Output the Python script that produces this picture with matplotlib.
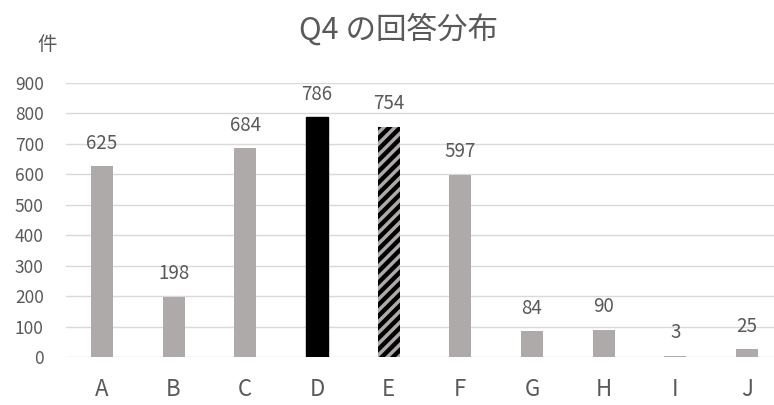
import matplotlib
matplotlib.use("Agg")
from matplotlib import pyplot as plt

plt.rcParams['font.family'] = ['Noto Sans CJK JP', 'DejaVu Sans']
plt.rcParams['hatch.linewidth'] = 2.5

# データ
categories = ['A', 'B', 'C', 'D', 'E', 'F', 'G', 'H', 'I', 'J']
counts = [625, 198, 684, 786, 754, 597, 84, 90, 3, 25]
yticks = [0, 100, 200, 300, 400, 500, 600, 700, 800, 900]

gray = '#AEAAAA'
text_col = '#595959'

fig = plt.figure(figsize=(7.74, 4.05), dpi=100)
ax = fig.add_axes([0.0853, 0.1185, 0.926, 0.6775])

x = range(len(categories))
bars = ax.bar(x, counts, width=0.307, color=gray, zorder=2)
bars[3].set_color('black')
bars[4].set_facecolor('black')
bars[4].set_edgecolor(gray)
bars[4].set_hatch('///')
bars[4].set_linewidth(0)

# データラベル
for i, v in enumerate(counts):
    ax.text(i, v + 76, str(v), ha='center', va='center', fontsize=13.5, color=text_col)

ax.set_xlim(-0.5, len(categories) - 0.5)
ax.set_ylim(0, 900)
ax.set_yticks(yticks)
ax.set_xticks(list(x))
ax.set_xticklabels(categories, fontsize=16, color=text_col)
ax.tick_params(axis='y', labelsize=12.5, colors=text_col, length=0, pad=16)
ax.tick_params(axis='x', length=0, pad=15)
ax.grid(axis='y', color='#D9D9D9', linewidth=1, zorder=0)
for s in ax.spines.values():
    s.set_visible(False)

fig.text(0.515, 0.928, 'Q4 の回答分布', ha='center', va='center', fontsize=22, color=text_col)
fig.text(0.061, 0.891, '件', ha='center', va='center', fontsize=14, color=text_col)

fig.savefig('out.png', dpi=100)
